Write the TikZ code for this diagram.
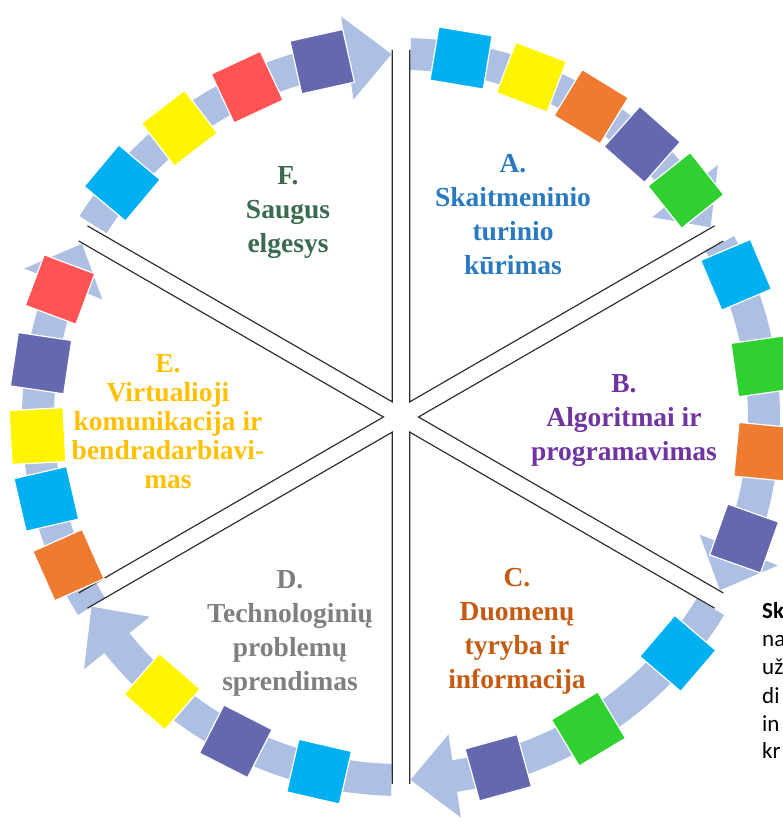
\documentclass[tikz,border=0pt]{standalone}
\usepackage{fontspec}
\setmainfont{Liberation Serif}
\newfontfamily\calfont{Carlito}
\definecolor{bandc}{HTML}{ADC0E3}
\definecolor{divc}{HTML}{303030}
\definecolor{sqcyan}{HTML}{00B0F0}
\definecolor{sqyellow}{HTML}{FFF500}
\definecolor{sqorange}{HTML}{EE7B30}
\definecolor{sqslate}{HTML}{6468AE}
\definecolor{sqgreen}{HTML}{2FD02F}
\definecolor{sqred}{HTML}{FF5454}
\definecolor{colA}{HTML}{2A7AC2}
\definecolor{colB}{HTML}{7035A0}
\definecolor{colC}{HTML}{C55A11}
\definecolor{colD}{HTML}{7F7F7F}
\definecolor{colE}{HTML}{FFC000}
\definecolor{colF}{HTML}{3A6B4E}
\begin{document}
\begin{tikzpicture}[x=1pt,y=1pt,
  band/.style={fill=bandc},
  sq/.style={minimum size=54pt, inner sep=0pt, draw=white, line width=1.2pt},
  divider/.style={draw=divc, line width=1.2pt},
  lbl/.style={font=\bfseries\fontsize{27.5}{34}\selectfont, align=center, inner sep=0pt},
  side/.style={font=\calfont\fontsize{23}{28}\selectfont, anchor=base west, inner sep=0pt}
]
\useasboundingbox (0,0) rectangle (783,830);
\fill[white] (0,0) rectangle (783,830);
\begin{scope}[shift={(401,413)}]
  % ring arrows
  \foreach \s/\t in {148/91.5, 88.5/31.5, 28.5/-28.5, -31.5/-88.5, -91.5/-148.5, 211.5/151.5} {
    \pgfmathsetmacro\h{\t+7}
    \fill[band] (\s:379) arc[start angle=\s, end angle=\h, radius=379]
      -- (\h:405) -- (\t:363) -- (\h:321) -- (\h:347)
      arc[start angle=\h, end angle=\s, radius=347] -- cycle;
  }
  % sector dividers
  \foreach \p in {60,0,-60,-120,180,120} {
    \draw[divider] (\p:17.5) ++(\p+30:352) -- (\p:17.5) -- ++(\p-30:352);
  }
  % squares
  \foreach \a/\c [count=\i] in {
    140/sqcyan, 127.5/sqyellow, 115/sqred, 102.5/sqslate,
    80.5/sqcyan, 69/sqyellow, 58.5/sqorange, 48.5/sqslate, 38.5/sqgreen,
    23/sqcyan, 8/sqgreen, -5.5/sqorange, -19.5/sqslate,
    -40.5/sqcyan, -59/sqgreen, -74.5/sqslate,
    -103/sqcyan, -117/sqslate, -131/sqyellow,
    204/sqorange, 193/sqcyan, 183/sqyellow, 171.5/sqslate, 159.5/sqred} {
    \node[sq, fill=\c, rotate=\a-90] (sq\i) at (\a:364) {};
  }
\end{scope}
% labels
\node[lbl, text=colF] (tF) at (288,617) {F.\\Saugus\\elgesys};
\node[lbl, text=colA] (tA) at (513,615) {A.\\Skaitmeninio\\turinio\\kūrimas};
\node[lbl, text=colB] (tB) at (624,409) {B.\\Algoritmai ir\\programavimas};
\node[lbl, text=colC] (tC) at (517,199) {C.\\Duomenų\\tyryba ir\\informacija};
\node[lbl, text=colD] (tD) at (290,197) {D.\\Technologinių\\problemų\\sprendimas};
\node[lbl, text=colE, font=\bfseries\fontsize{27.5}{29}\selectfont] (tE) at (168,408) {E.\\Virtualioji\\komunikacija ir\\bendradarbiavi-\\mas};
% side text box
\fill[white] (742,242) rectangle (783,0);
\node[side, font=\calfont\bfseries\fontsize{23}{28}\selectfont] (s1) at (762,211) {Sk};
\node[side] (s2) at (762,183) {na};
\node[side] (s3) at (762,155) {už};
\node[side] (s4) at (762,126) {di};
\node[side] (s5) at (762,98) {in};
\node[side] (s6) at (762,71) {kr};
\end{tikzpicture}
\end{document}
